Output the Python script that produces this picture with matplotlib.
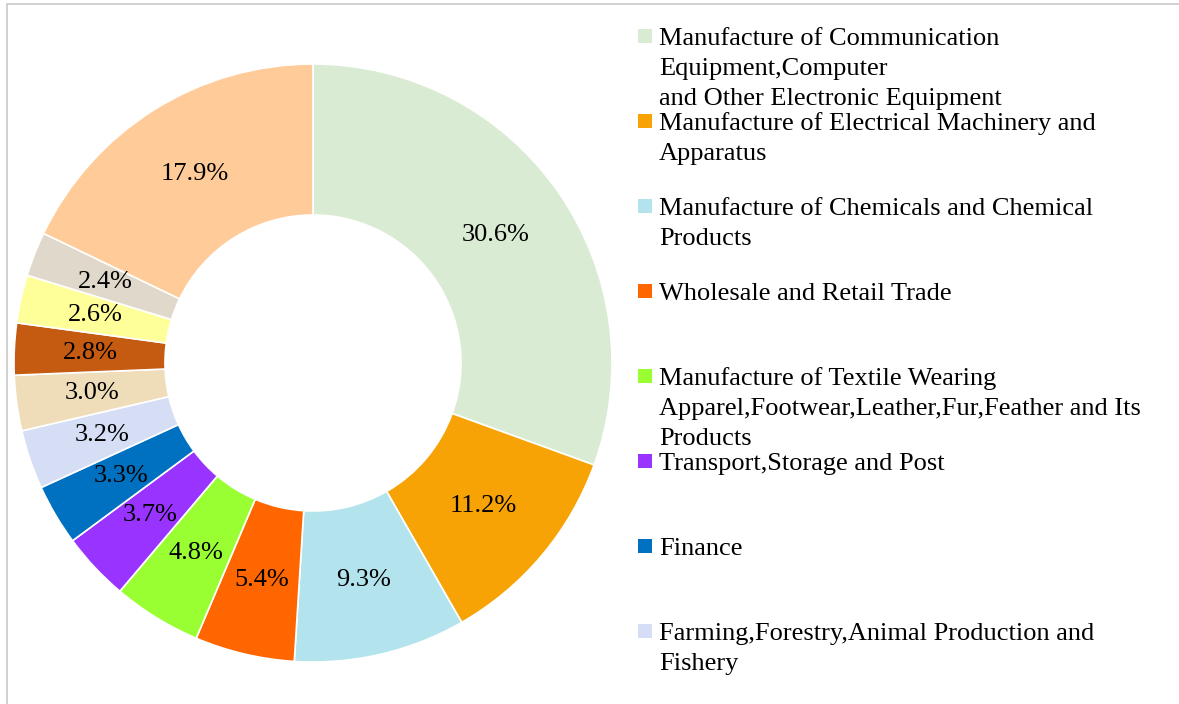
import matplotlib
matplotlib.use("Agg")
import matplotlib.pyplot as plt
from matplotlib.patches import Rectangle
import numpy as np

# Shares of each industry (%), clockwise from 12 o'clock
values = [30.6, 11.2, 9.3, 5.4, 4.8, 3.7, 3.3, 3.2, 3.0, 2.8, 2.6, 2.4, 17.9]
colors = ["#DAEBD3", "#F7A305", "#B3E3EC", "#FF6600", "#99FF33", "#9933FF",
          "#0070C0", "#D5DEF5", "#EFDDB9", "#C55A11", "#FFFF99", "#E0D8CA",
          "#FFCC99"]

# Legend entries (only the first eight fit in the legend area)
legend_labels = [
    "Manufacture of Communication\nEquipment,Computer\nand Other Electronic Equipment",
    "Manufacture of Electrical Machinery and\nApparatus",
    "Manufacture of Chemicals and Chemical\nProducts",
    "Wholesale and Retail Trade",
    "Manufacture of Textile Wearing\nApparel,Footwear,Leather,Fur,Feather and Its\nProducts",
    "Transport,Storage and Post",
    "Finance",
    "Farming,Forestry,Animal Production and\nFishery",
]

W, H = 1179, 704
fig = plt.figure(figsize=(W / 100, H / 100), dpi=100)
fig.patch.set_facecolor("white")

FONT = "Liberation Serif"
FS = 19

# Chart area border
fig.add_artist(Rectangle((7 / W, -0.1), 1.2, (H - 4) / H + 0.1,
                         transform=fig.transFigure, fill=False,
                         edgecolor="#C8C8C8", linewidth=1.2))

# Donut axes: centre (313, 363) px, outer radius 299 px
cx, cy, R = 313, 363, 299
ax = fig.add_axes([(cx - R) / W, (H - cy - R) / H, 2 * R / W, 2 * R / H])
wedges, _ = ax.pie(values, colors=colors, startangle=90, counterclock=False,
                   radius=1.0,
                   wedgeprops=dict(width=0.505, edgecolor="white", linewidth=1.2))
ax.set_xlim(-1, 1)
ax.set_ylim(-1, 1)
ax.set_aspect("equal")
ax.set_axis_off()

for w, v in zip(wedges, values):
    ang = np.deg2rad((w.theta1 + w.theta2) / 2)
    r = 0.745
    ax.text(r * np.cos(ang), r * np.sin(ang), f"{v:.1f}%",
            ha="center", va="center", fontsize=FS, family=FONT, color="black")

# Legend drawn in fixed slots, one text line at a time
slot_top = 36
slot_step = 85
line_step = 30
for i, lab in enumerate(legend_labels):
    y = slot_top + i * slot_step
    fig.add_artist(Rectangle((638 / W, (H - y - 7) / H), 14 / W, 14 / H,
                             transform=fig.transFigure, facecolor=colors[i],
                             edgecolor="none"))
    for j, line in enumerate(lab.split("\n")):
        fig.text(659 / W, (H - (y + 9 + j * line_step)) / H, line,
                 ha="left", va="baseline", fontsize=FS, family=FONT,
                 color="black")

fig.savefig("out.png", dpi=100, facecolor="white")
